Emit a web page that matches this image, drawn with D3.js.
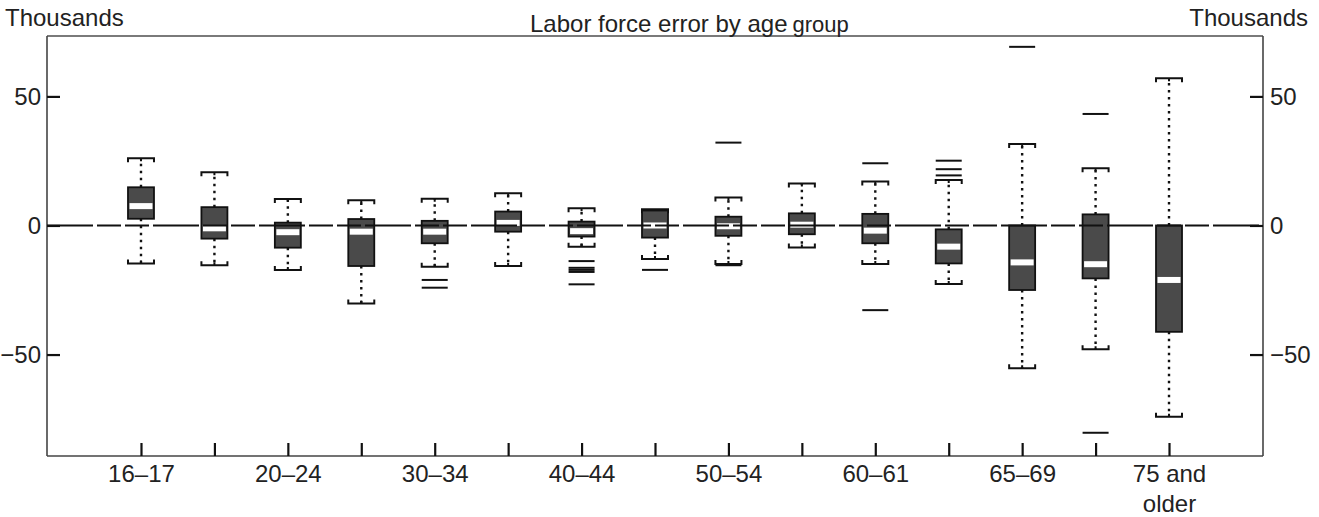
<!DOCTYPE html>
<html>
<head>
<meta charset="utf-8">
<script src="https://cdn.jsdelivr.net/npm/d3@7"></script>
<style>
  html, body { margin: 0; padding: 0; background: #fff; }
  text { font-family: "Liberation Sans", Arial, Helvetica, sans-serif; fill: #222; }
</style>
</head>
<body>
<svg id="chart" width="1319" height="517"></svg>
<script>
// ---- data ----
const categories = ["16–17","18–19","20–24","25–29","30–34","35–39","40–44","45–49","50–54","55–59","60–61","62–64","65–69","70–74","75 and older"];
const tickLabels = ["16–17","","20–24","","30–34","","40–44","","50–54","","60–61","","65–69","","75 and older"];
const whiskerLow  = [-14.7, -15.4, -17.2, -30.2, -16.0, -15.7, -8.2, -13.0, -14.9, -8.5, -14.9, -22.7, -55.3, -47.9, -74.1];
const quartile1   = [  2.6,  -5.1,  -8.6, -15.7,  -6.9,  -2.4, -4.3,  -4.7,  -4.0, -3.4,  -6.9, -14.7, -25.0, -20.5, -41.2];
const medians     = [  7.5,  -1.1,  -2.6,  -2.4,  -2.4,   1.0, -2.2,   0.0,  -0.3,  0.3,  -2.0,  -8.2, -14.3, -15.0, -21.1];
const quartile3   = [ 14.8,   7.1,   1.1,   2.5,   1.8,   5.4,  1.5,   5.8,   3.4,  4.7,   4.5,  -1.5,   0.0,   4.3,   0.0];
const whiskerHigh = [ 26.0,  20.6,  10.3,   9.8,  10.4,  12.5,  6.7,   6.3,  10.8, 16.3,  17.0,  17.6,  31.6,  22.2,  57.0];
const outliers    = [[], [], [], [], [-21.1, -24.1], [], [-13.8, -16.4, -17.2, -18.0, -22.8], [-17.2], [-15.4, 32.1], [], [24.1, -32.8], [25.1, 21.8, 19.4], [69.2], [43.2, -80.3], []];
const yTicks = [-50, 0, 50];

// ---- layout ----
const svg = d3.select("#chart");
const L = 47, R = 1263, T = 36, B = 456;
const x = d3.scalePoint().domain(categories).range([L, R]).padding(1.28);
const y = d3.scaleLinear().domain([-89.3, 73.4]).range([B, T]);
const bw = 26;

const data = categories.map((c, i) => ({
  c, lo: whiskerLow[i], q1: quartile1[i], med: medians[i], q3: quartile3[i], hi: whiskerHigh[i], out: outliers[i]
}));

// frame
svg.append("line").attr("x1", L).attr("x2", R).attr("y1", T).attr("y2", T)
  .attr("stroke", "#7a7a7a").attr("stroke-width", 2);

const fmt = d => d < 0 ? "\u2212" + Math.abs(d) : String(d);

// left axis
const gl = svg.append("g").attr("transform", `translate(${L},0)`)
  .call(d3.axisLeft(y).tickValues(yTicks).tickSize(-13).tickPadding(6).tickFormat(fmt));
// right axis
const gr = svg.append("g").attr("transform", `translate(${R},0)`)
  .call(d3.axisRight(y).tickValues(yTicks).tickSize(-13).tickPadding(7).tickFormat(fmt));
// bottom axis
const gb = svg.append("g").attr("transform", `translate(0,${B})`)
  .call(d3.axisBottom(x).tickSize(-13).tickPadding(9).tickFormat((d, i) => tickLabels[i]));

[gl, gr, gb].forEach(g => {
  g.select(".domain").attr("stroke", "#444").attr("stroke-width", 1.6);
  g.selectAll(".tick line").attr("stroke", "#111").attr("stroke-width", 2.2);
  g.selectAll(".tick text").attr("font-size", 24).attr("fill", "#222")
    .style("font-family", '"Liberation Sans", Arial, sans-serif');
});
gl.select(".domain").attr("d", `M0,${T}V${B}`);
gr.select(".domain").attr("d", `M0,${T}V${B}`);
gb.select(".domain").attr("d", `M${L},0H${R}`);
gl.selectAll(".tick text").attr("dy", "0.35em");
gr.selectAll(".tick text").attr("dy", "0.35em");

// wrap "75 and older"
gb.selectAll(".tick text").each(function(d, i) {
  const t = d3.select(this);
  const label = tickLabels[i];
  if (label === "75 and older") {
    t.text(null);
    t.append("tspan").attr("x", 0).attr("dy", "0.71em").text("75 and");
    t.append("tspan").attr("x", 0).attr("dy", "1.26em").text("older");
  }
});

// unit labels and title
svg.append("text").attr("x", 5).attr("y", 26).attr("font-size", 24).text("Thousands");
svg.append("text").attr("x", 1308).attr("y", 26).attr("font-size", 24).attr("text-anchor", "end").text("Thousands");
const title = svg.append("text").attr("x", 530).attr("y", 32).attr("font-size", 24);
title.append("tspan").text("Labor force error by age");
title.append("tspan").attr("dx", 5).attr("font-size", 22).text("group");

// whiskers (dotted)
const g = svg.append("g");
data.forEach(d => {
  const cx = x(d.c);
  g.append("line").attr("x1", cx).attr("x2", cx).attr("y1", y(d.q3)).attr("y2", y(d.hi))
    .attr("stroke", "#111").attr("stroke-width", 2.4).attr("stroke-dasharray", "2.5,4.5");
  g.append("line").attr("x1", cx).attr("x2", cx).attr("y1", y(d.q1)).attr("y2", y(d.lo))
    .attr("stroke", "#111").attr("stroke-width", 2.4).attr("stroke-dasharray", "2.5,4.5");
  // caps
  const yh = y(d.hi), yl = y(d.lo), h = bw / 2;
  g.append("path").attr("d", `M${cx - h},${yh + 4}V${yh}H${cx + h}V${yh + 4}M${cx},${yh}V${yh + 3}`)
    .attr("fill", "none").attr("stroke", "#111").attr("stroke-width", 2);
  g.append("path").attr("d", `M${cx - h},${yl - 4}V${yl}H${cx + h}V${yl - 4}M${cx},${yl}V${yl - 3}`)
    .attr("fill", "none").attr("stroke", "#111").attr("stroke-width", 2);
  // outliers
  d.out.forEach(o => {
    g.append("line").attr("x1", cx - h).attr("x2", cx + h).attr("y1", y(o)).attr("y2", y(o))
      .attr("stroke", "#111").attr("stroke-width", 2);
  });
});

// boxes
data.forEach(d => {
  const cx = x(d.c);
  g.append("rect").attr("x", cx - bw / 2).attr("width", bw)
    .attr("y", y(d.q3)).attr("height", y(d.q1) - y(d.q3))
    .attr("fill", "#4a4a4a").attr("stroke", "#111").attr("stroke-width", 1.8);
  g.append("rect").attr("x", cx - bw / 2 + 1.5).attr("width", bw - 3)
    .attr("y", y(d.med) - 3).attr("height", 6).attr("fill", "#fff");
});

// zero line on top
svg.append("line").attr("x1", L).attr("x2", R).attr("y1", y(0)).attr("y2", y(0))
  .attr("stroke", "#111").attr("stroke-width", 2).attr("stroke-dasharray", "46,4,24,4,24,4");
</script>
</body>
</html>
